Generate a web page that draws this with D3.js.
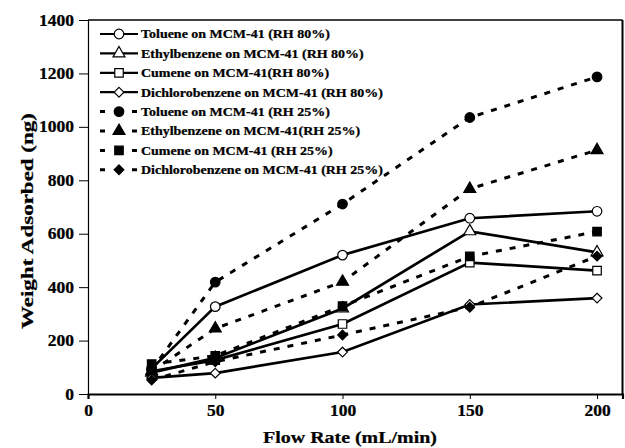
<!DOCTYPE html>
<html><head><meta charset="utf-8">
<script src="https://cdn.jsdelivr.net/npm/d3@7"></script>
<style>
body{margin:0;background:#fff;}
svg text{font-family:"Liberation Serif";font-weight:bold;fill:#000;stroke:#000;stroke-width:0.25px;}
</style></head><body>
<svg id="c" width="625" height="448"></svg>
<script>
const flowRates = [25, 50, 100, 150, 200];
const seriesNames = [
  "Toluene on MCM-41 (RH 80%)",
  "Ethylbenzene on MCM-41 (RH 80%)",
  "Cumene on MCM-41(RH 80%)",
  "Dichlorobenzene on MCM-41 (RH 80%)",
  "Toluene on MCM-41 (RH 25%)",
  "Ethylbenzene on MCM-41(RH 25%)",
  "Cumene on MCM-41 (RH 25%)",
  "Dichlorobenzene on MCM-41 (RH 25%)"
];
const toluene80 = [95, 327, 520, 658, 684];
const ethyl80 = [80, 135, 320, 609, 530];
const cumene80 = [85, 127, 262, 492, 462];
const dcb80 = [60, 78, 157, 335, 359];
const toluene25 = [90, 419, 711, 1035, 1187];
const ethyl25 = [85, 245, 420, 768, 913];
const cumene25 = [112, 143, 329, 515, 608];
const dcb25 = [52, 121, 221, 325, 516];
const xTicks = [0, 50, 100, 150, 200];
const yTicks = [0, 200, 400, 600, 800, 1000, 1200, 1400];

const seriesValues = [toluene80, ethyl80, cumene80, dcb80, toluene25, ethyl25, cumene25, dcb25];
const shapes = ["circle","triangle","square","diamond","circle","triangle","square","diamond"];

const svg = d3.select("#c");
const L = 88, R = 622.5, T = 20, B = 394;
const x = d3.scaleLinear().domain([0, 210]).range([L, R]);
const y = d3.scaleLinear().domain([0, 1400]).range([B, T]);

// horizontal stretch so that a text node spans a given width
function fitScale(node, width) {
  const w = node.getComputedTextLength();
  return w > 0 ? width / w : 1;
}

// frame
svg.append("line").attr("x1", L).attr("x2", R).attr("y1", T).attr("y2", T).attr("stroke","#000").attr("stroke-width",1.5);
svg.append("line").attr("x1", R).attr("x2", R).attr("y1", T).attr("y2", B).attr("stroke","#000").attr("stroke-width",2);

// axes
const xAxis = svg.append("g").attr("transform", `translate(0,${B})`)
  .call(d3.axisBottom(x).tickValues(xTicks).tickSize(5).tickFormat(d3.format("d")));
const yAxis = svg.append("g").attr("transform", `translate(${L},0)`)
  .call(d3.axisLeft(y).tickValues(yTicks).tickSize(9).tickFormat(d3.format("d")));
[xAxis, yAxis].forEach(g => {
  g.select(".domain").attr("stroke","#000");
  g.selectAll(".tick line").attr("stroke","#000").attr("stroke-width",1);
  g.selectAll("text").attr("font-size", 16).attr("font-family", null);
});
// "1400" spans about 35px in the reference
const tickSX = fitScale(yAxis.selectAll(".tick text").filter(d => d === 1400).node(), 35);
xAxis.selectAll(".tick text").attr("y", 0).attr("dy", "0.71em").attr("transform", `translate(0,11) scale(${tickSX},1)`);
yAxis.selectAll(".tick text").attr("x", 0).attr("transform", `translate(-14,0) scale(${tickSX},1)`);
xAxis.select(".domain").attr("stroke-width", 2.2);
yAxis.select(".domain").attr("stroke-width", 1.2);

const xt = svg.append("text").attr("text-anchor","middle").attr("font-size", 17).text("Flow Rate (mL/min)");
xt.attr("transform", `translate(350,443) scale(${fitScale(xt.node(), 174)},1)`);
const yt = svg.append("text").attr("text-anchor","middle").attr("font-size", 17).text("Weight Adsorbed (ng)");
yt.attr("transform", `translate(33,221) rotate(-90) scale(${fitScale(yt.node(), 216)},1)`);

const symGen = {
  circle: d3.symbol(d3.symbolCircle, 72),
  triangle: d3.symbol(d3.symbolTriangle, 62),
  square: d3.symbol(d3.symbolSquare, 72),
  diamond: d3.symbol(d3.symbolDiamond2, 60)
};

const line = d3.line().x((d, i) => x(flowRates[i])).y(d => y(d));

seriesValues.forEach((vals, s) => {
  const dashed = s >= 4;
  const g = svg.append("g");
  g.append("path").attr("d", line(vals)).attr("fill","none").attr("stroke","#000")
    .attr("stroke-width", dashed ? 3 : 2.7)
    .attr("stroke-dasharray", dashed ? "6,8" : null);
  g.selectAll("path.m").data(vals).enter().append("path").attr("class","m")
    .attr("transform", (d, i) => `translate(${x(flowRates[i])},${y(d)})`)
    .attr("d", symGen[shapes[s]]())
    .attr("fill", dashed ? "#000" : "#fff").attr("stroke","#000").attr("stroke-width", 1.2);
});

// legend
const legY0 = 34, legStep = 19.4;
const leg = svg.append("g");
const legTexts = [];
seriesNames.forEach((name, s) => {
  const dashed = s >= 4;
  const yy = legY0 + s * legStep;
  leg.append("line").attr("x1", 100).attr("x2", 138).attr("y1", yy).attr("y2", yy)
    .attr("stroke","#000").attr("stroke-width", dashed ? 3 : 2.2)
    .attr("stroke-dasharray", dashed ? "5,27" : null);
  leg.append("path").attr("transform", `translate(119,${yy})`).attr("d", symGen[shapes[s]]())
    .attr("fill", dashed ? "#000" : "#fff").attr("stroke","#000").attr("stroke-width",1.2);
  legTexts.push(leg.append("text").attr("font-size", 12).attr("data-y", yy + 4.3).text(name));
});
// first legend entry spans about 189px in the reference
const legSX = fitScale(legTexts[0].node(), 189);
legTexts.forEach(t => t.attr("transform", `translate(141,${t.attr("data-y")}) scale(${legSX},1)`));
</script>
</body></html>
